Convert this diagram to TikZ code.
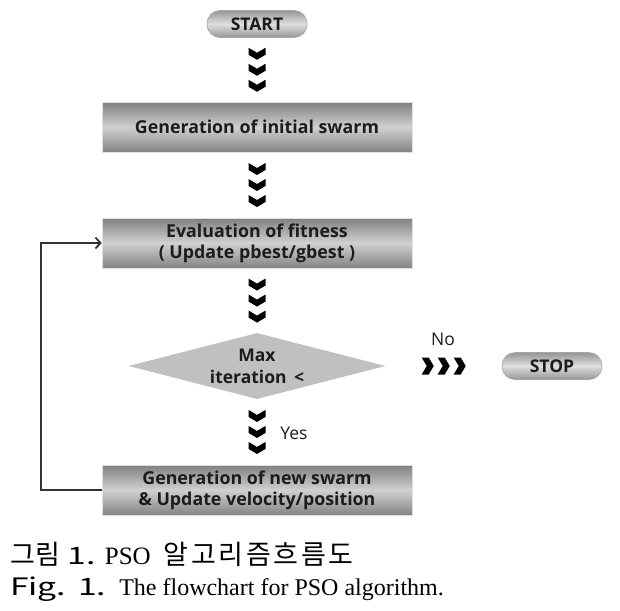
\documentclass[tikz,border=0pt]{standalone}
\usepackage{fontspec}
\setmainfont{Liberation Serif}
\newfontfamily\boxfont{Open Sans}
\newfontfamily\krfont{Noto Sans CJK KR}
\newfontfamily\krwide[LetterSpace=10]{Noto Sans CJK KR}
\newfontfamily\figfont[FakeStretch=1.4]{Noto Sans CJK KR}
\usepackage{tikz}
\usetikzlibrary{
  arrows.meta,
  shapes.geometric,
  positioning,
  calc
}
\definecolor{xtop}{RGB}{128,128,128}
\definecolor{xmid}{RGB}{208,208,208}
\definecolor{xbot}{RGB}{132,132,132}
\definecolor{xpilltop}{RGB}{150,150,150}
\definecolor{xpillmid}{RGB}{222,222,222}
\definecolor{xdiam}{RGB}{192,192,192}
\definecolor{xink}{RGB}{28,28,28}
\definecolor{xwire}{RGB}{50,50,50}

\tikzset{
  pics/chevdown/.style={code={
    \foreach \dy in {16,0,-16}{
      \fill[black] (-8.5,\dy+6) -- (0,\dy+1) -- (8.5,\dy+6) -- (8.5,\dy-1) -- (0,\dy-6) -- (-8.5,\dy-1) -- cycle;
    }
  }}
}

\begin{document}
\begin{tikzpicture}[
  x=1pt, y=1pt,
  box/.style={draw=gray!25, line width=0.6pt, top color=xtop, bottom color=xbot, middle color=xmid,
              minimum width=310pt, minimum height=50pt, inner sep=0pt,
              font=\boxfont\bfseries\fontsize{17.8}{21}\selectfont, text=xink, align=center},
  pill/.style={draw=gray!70, line width=0.6pt, top color=xpilltop, bottom color=xpilltop, middle color=xpillmid,
               rounded corners=13pt, minimum width=100pt, minimum height=27pt, inner sep=0pt,
               font=\boxfont\bfseries\fontsize{17.5}{20}\selectfont, text=xink},
  decide/.style={diamond, aspect=4, fill=xdiam, inner sep=0pt,
                 minimum width=257pt, minimum height=66pt,
                 font=\boxfont\bfseries\fontsize{17.5}{22}\selectfont, text=xink, align=center},
  lbl/.style={font=\boxfont\fontsize{17.5}{20}\selectfont, text=xink},
  fb/.style={-{Straight Barb[length=5pt,width=11pt]}, line width=1.8pt, color=xwire},
  captxt/.style={anchor=base west, inner sep=0pt, font=\fontsize{24}{28}\selectfont}
]
  \useasboundingbox (0,0) rectangle (620,-610);

  \node[pill]   (start)  at (257,-24)  {START};
  \node[box]    (init)   at (257,-127) {Generation of initial swarm};
  \node[box]    (eval)   at (257,-243) {Evaluation of fitness\\( Update pbest/gbest )};
  \node[decide] (check)  at (257,-366) {Max\\iteration \,<};
  \node[pill]   (stop)   at (552,-366) {STOP};
  \node[box]    (update) at (257,-490) {Generation of new swarm\\\& Update velocity/position};

  \pic at ($(start.south)!.5!(init.north)$) {chevdown};
  \pic at ($(init.south)!.5!(eval.north)$) {chevdown};
  \pic at ($(eval.south)!.5!(check.north)$) {chevdown};
  \pic at ($(check.south)!.5!(update.north)$) {chevdown};
  \pic[rotate=90] at ($(check.east)!.5!(stop.west)$) {chevdown};

  \node[lbl] (nolbl)  at (443,-339) {No};
  \node[lbl] (yeslbl) at (294,-433) {Yes};

  \draw[fb] (update.west) -- ++(-61,0) |- (eval.west);

  \node[captxt] (capkr) at (10,-564)
    {{\krfont\fontsize{27}{30}\selectfont 그림}\hspace{8pt}{\figfont 1.}\hspace{9pt}\fontsize{25}{28}\selectfont PSO\hspace{13pt}{\krwide\fontsize{27}{30}\selectfont 알고리즘흐름도}};
  \node[captxt] (capen) at (10,-595)
    {{\figfont Fig.}\hspace{12pt}{\figfont 1.}\hspace{13pt}The flowchart for PSO algorithm.};
\end{tikzpicture}
\end{document}
